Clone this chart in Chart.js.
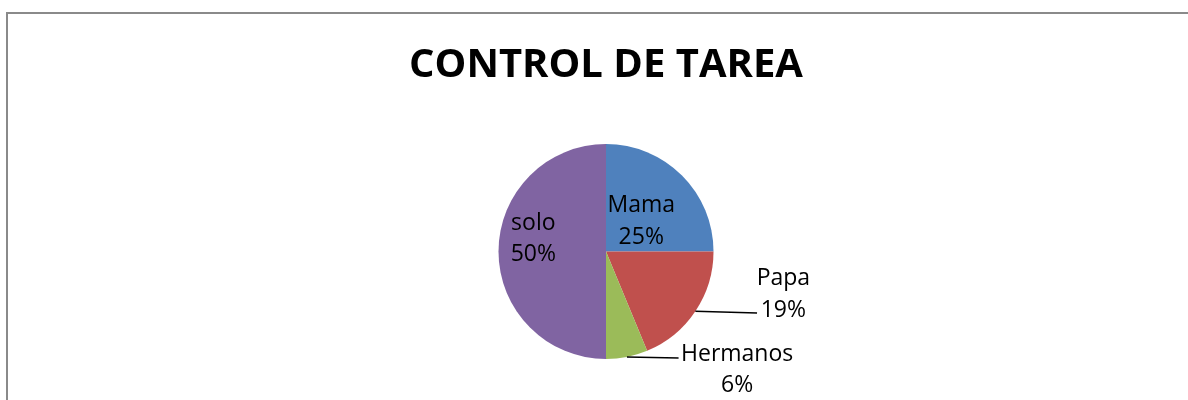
<!DOCTYPE html>
<html>
<head>
<meta charset="utf-8">
<script src="https://cdn.jsdelivr.net/npm/chart.js@4/dist/chart.umd.min.js"></script>
<style>
  html, body { margin: 0; padding: 0; background: #fff; overflow: hidden; }
  #frame { position: absolute; left: 6px; top: 12px; width: 1300px; height: 500px; border: 2px solid #8a8a8a; }
  #wrap { position: absolute; left: 0; top: 0; width: 1188px; height: 400px; }
</style>
</head>
<body>
<div id="frame"></div>
<div id="wrap"><canvas id="pie"></canvas></div>
<script>
// datos del grafico
const categorias = ['Mama', 'Papa', 'Hermanos', 'solo'];
const valores = [4, 3, 1, 8];
const colores = ['#4F81BD', '#C0504D', '#9BBB59', '#8064A2'];
const titulo = 'CONTROL DE TAREA';

// posicion de las etiquetas, en radios respecto al centro (x centro, primera linea base)
const etiq = [
  { x: 0.328, y: -0.369 },
  { x: 1.65, y: 0.31, linea: { x: 1.405, y: 0.573 } },
  { x: 1.22, y: 1.014, linea: { x: 0.675, y: 0.99 } },
  { x: -0.676, y: -0.202 }
];

const total = valores.reduce((a, b) => a + b, 0);

// dibuja nombre + porcentaje y las lineas guia
const etiquetas = {
  id: 'etiquetas',
  afterDatasetsDraw(chart) {
    const ctx = chart.ctx, arcs = chart.getDatasetMeta(0).data;
    ctx.save();
    ctx.font = '23px "Open Sans"';
    ctx.fillStyle = '#000';
    ctx.textAlign = 'center';
    ctx.textBaseline = 'alphabetic';
    arcs.forEach((a, i) => {
      const { x, y, outerRadius: r, startAngle, endAngle } = a;
      const p = etiq[i];
      if (p.linea) {
        const m = (startAngle + endAngle) / 2;
        ctx.beginPath();
        ctx.moveTo(x + Math.cos(m) * r, y + Math.sin(m) * r);
        ctx.lineTo(x + p.linea.x * r, y + p.linea.y * r);
        ctx.strokeStyle = '#000';
        ctx.lineWidth = 1.5;
        ctx.stroke();
      }
      const pct = Math.round(valores[i] / total * 100) + '%';
      ctx.fillText(categorias[i], x + p.x * r, y + p.y * r);
      ctx.fillText(pct, x + p.x * r, y + p.y * r + 31.7);
    });
    ctx.restore();
  }
};

new Chart(document.getElementById('pie'), {
  type: 'pie',
  data: {
    labels: categorias,
    datasets: [{ data: valores, backgroundColor: colores, borderWidth: 0 }]
  },
  options: {
    responsive: true,
    maintainAspectRatio: false,
    animation: false,
    layout: { padding: { left: 24, right: 0, top: 0, bottom: 41 } },
    plugins: {
      legend: { display: false },
      tooltip: { enabled: false },
      title: {
        display: true,
        text: titulo,
        color: '#000',
        font: { family: 'Open Sans', size: 40, weight: 'bold', lineHeight: 1.2 },
        padding: { top: 42, bottom: 54 }
      }
    }
  },
  plugins: [etiquetas]
});
</script>
</body>
</html>
